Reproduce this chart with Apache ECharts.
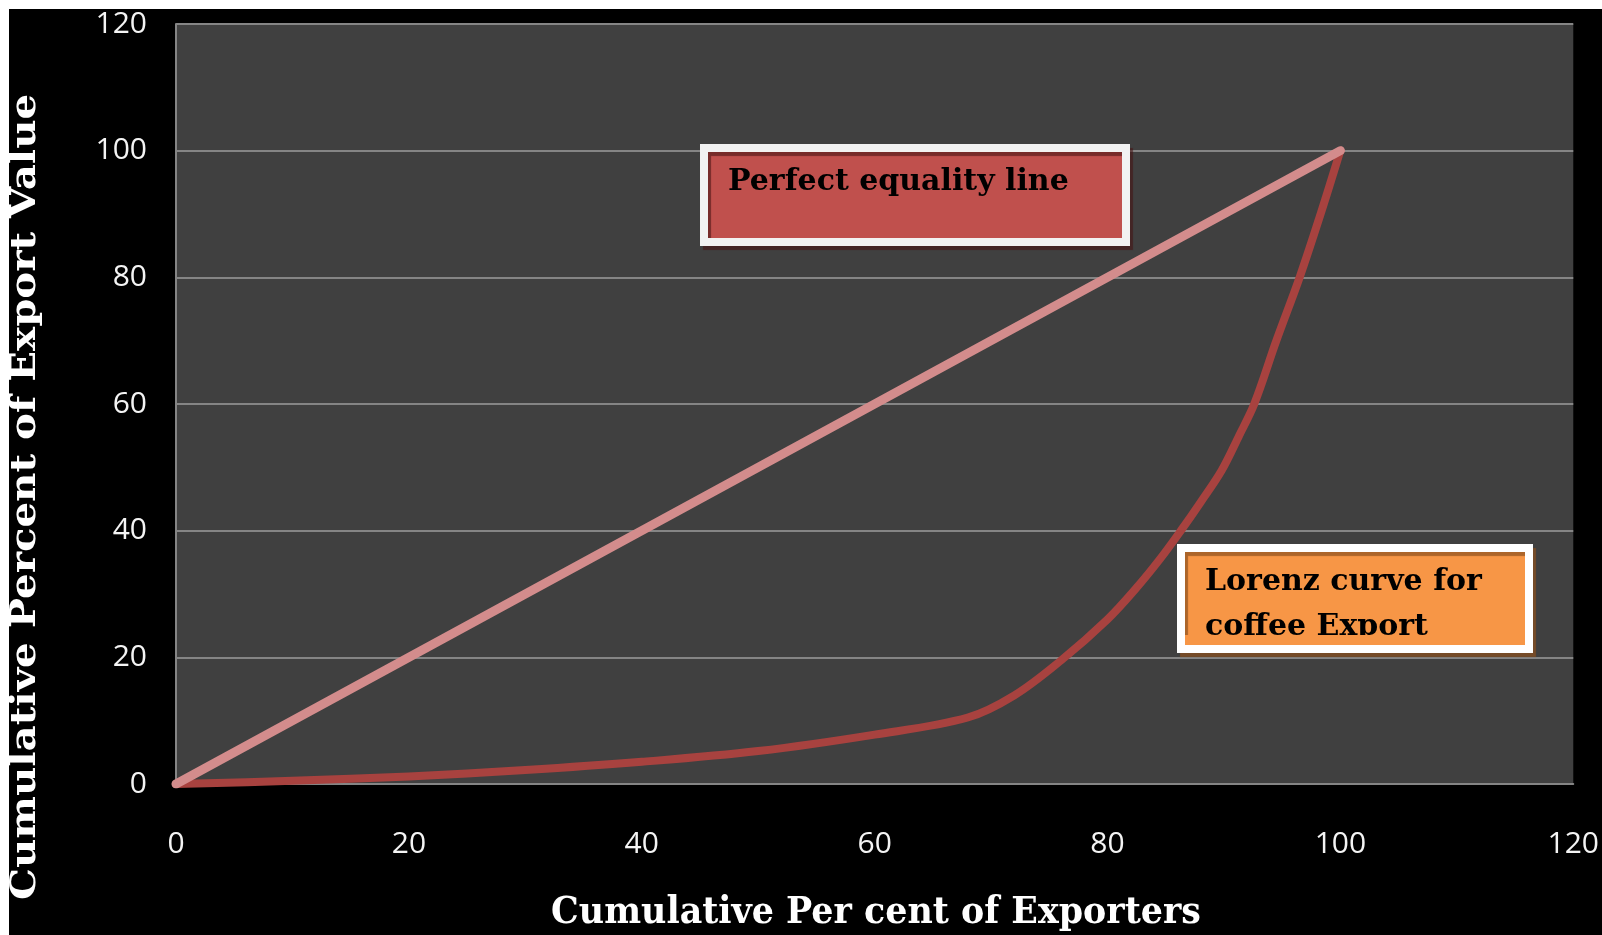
<!DOCTYPE html>
<html>
<head>
<meta charset="utf-8">
<title>Lorenz curve for coffee export</title>
<script src="https://cdn.jsdelivr.net/npm/echarts@6/dist/echarts.min.js"></script>
<style>
  html, body { margin: 0; padding: 0; background: #ffffff; width: 1602px; height: 935px; overflow: hidden; }
  #chart { position: absolute; left: 9px; top: 9px; width: 1593px; height: 926px; background: #000000; }
</style>
</head>
<body>
<div id="chart"></div>
<script>
// Cumulative share of exporters (%) and of export value (%)
const lorenzX = [0, 10, 20, 30, 40, 50, 60, 68, 72, 76, 80, 82.5, 84.5, 86.3, 88, 89.8, 91.3, 92.6, 94.5, 96.5, 98.3, 100];
const lorenzY = [0, 0.5, 1.2, 2.2, 3.5, 5.2, 7.8, 10.5, 14, 19.5, 26, 31, 35.5, 40, 44.5, 49.5, 55, 60, 70, 80, 90, 100];
const equalityX = [0, 100];
const equalityY = [0, 100];
const axisTicks = [0, 20, 40, 60, 80, 100, 120];

const xTitle = 'Cumulative Per cent of Exporters';
const yTitle = 'Cumulative Percent of Export Value';
const noteEquality = 'Perfect equality line';
const noteLorenz = ['Lorenz curve for', 'coffee Export'];

const pairs = (xs, ys) => xs.map((x, i) => [x, ys[i]]);

const chart = echarts.init(document.getElementById('chart'), null, { renderer: 'canvas' });

const tickFont = { color: '#f4f4f4', fontFamily: 'Open Sans', fontSize: 30 };
const serifBold = 'DejaVu Serif';

chart.setOption({
  backgroundColor: '#000000',
  animation: false,
  grid: {
    left: 167, top: 12, right: 23, bottom: 151,
    show: true, backgroundColor: '#404040', borderWidth: 0
  },
  xAxis: {
    type: 'value',
    min: axisTicks[0], max: axisTicks[axisTicks.length - 1], interval: 20,
    axisLine: { show: true, lineStyle: { color: '#858585', width: 2 } },
    axisTick: { show: false },
    splitLine: { show: false },
    axisLabel: Object.assign({ margin: 60, verticalAlign: 'middle' }, tickFont)
  },
  yAxis: {
    type: 'value',
    min: axisTicks[0], max: axisTicks[axisTicks.length - 1], interval: 20,
    axisLine: { show: true, lineStyle: { color: '#858585', width: 2 } },
    axisTick: { show: false },
    splitLine: { show: true, lineStyle: { color: '#858585', width: 2 } },
    axisLabel: Object.assign({ margin: 29 }, tickFont)
  },
  series: [
    {
      name: 'Lorenz curve',
      type: 'line',
      data: pairs(lorenzX, lorenzY),
      smooth: 0.35,
      showSymbol: false,
      lineStyle: { color: '#a8423f', width: 8, cap: 'round', join: 'round' },
      z: 3
    },
    {
      name: 'Perfect equality',
      type: 'line',
      data: pairs(equalityX, equalityY),
      showSymbol: false,
      lineStyle: { color: '#d38c8c', width: 9, cap: 'round' },
      z: 4
    }
  ],
  graphic: [
    // axis titles
    {
      type: 'text', x: 867, y: 904, scaleX: 0.917, z: 10,
      style: { text: xTitle, x: 0, y: 0, align: 'center', verticalAlign: 'middle',
               fill: '#ffffff', font: 'bold 38px "' + serifBold + '"' }
    },
    {
      type: 'text', x: 17, y: 488, rotation: Math.PI / 2, scaleX: 1.12, z: 10,
      style: { text: yTitle, x: 0, y: 0, align: 'center', verticalAlign: 'middle',
               fill: '#ffffff', font: 'bold 36px "' + serifBold + '"' }
    },
    // equality note
    {
      type: 'rect', z: 20,
      shape: { x: 695, y: 139, width: 422, height: 94 },
      style: { fill: '#c0504d', stroke: '#f2f2f2', lineWidth: 8,
               shadowColor: 'rgba(70,20,20,0.6)', shadowOffsetX: 3, shadowOffsetY: 4, shadowBlur: 1 }
    },
    {
      type: 'text', x: 719, y: 173, z: 21,
      style: { text: noteEquality, x: 0, y: 0, align: 'left', verticalAlign: 'middle',
               fill: '#000000', font: 'bold 30px "' + serifBold + '"' }
    },
    // Lorenz note
    {
      type: 'rect', z: 20,
      shape: { x: 1172, y: 539, width: 348, height: 101 },
      style: { fill: '#f79646', stroke: '#ffffff', lineWidth: 8,
               shadowColor: 'rgba(140,80,30,0.7)', shadowOffsetX: 3, shadowOffsetY: 4, shadowBlur: 1 }
    },
    {
      type: 'text', x: 1196, y: 573, z: 21,
      style: { text: noteLorenz[0], x: 0, y: 0, align: 'left', verticalAlign: 'middle',
               fill: '#000000', font: 'bold 30px "' + serifBold + '"' }
    },
    {
      type: 'text', x: 1196, y: 618, z: 21,
      style: { text: noteLorenz[1], x: 0, y: 0, align: 'left', verticalAlign: 'middle',
               fill: '#000000', font: 'bold 30px "' + serifBold + '"' }
    },
    // inner padding strip that trims the second line of the note
    {
      type: 'rect', z: 22,
      shape: { x: 1176, y: 626, width: 340, height: 10 },
      style: { fill: '#f79646' }
    }
  ]
});
</script>
</body>
</html>
